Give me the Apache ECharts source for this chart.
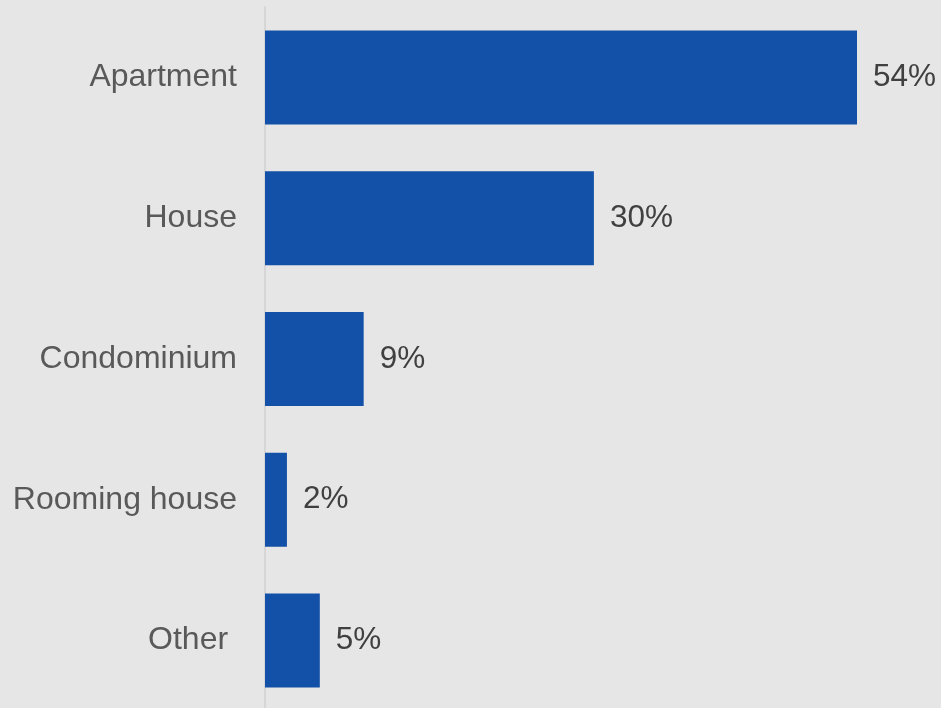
<!DOCTYPE html>
<html>
<head>
<meta charset="utf-8">
<style>
  html, body { margin: 0; padding: 0; background: #e6e6e6; }
  #chart { width: 941px; height: 708px; }
</style>
<script src="https://cdn.jsdelivr.net/npm/echarts@6/dist/echarts.min.js"></script>
</head>
<body>
<div id="chart"></div>
<script>
// Dwelling types and their share of respondents (percent)
const categories = ['Apartment', 'House', 'Condominium', 'Rooming house', 'Other '];
const shares = [54, 30, 9, 2, 5];

const chart = echarts.init(document.getElementById('chart'), null, { renderer: 'canvas' });

chart.setOption({
  backgroundColor: '#e6e6e6',
  animation: false,
  grid: {
    left: 265, right: 84, top: 7, height: 704,
    containLabel: false,
    outerBoundsMode: 'none'
  },
  xAxis: {
    type: 'value',
    min: 0,
    max: 54,
    show: false
  },
  yAxis: {
    type: 'category',
    data: categories,
    inverse: true,
    axisLine: { show: true, lineStyle: { color: '#d6d6d6', width: 2 } },
    axisTick: { show: false },
    splitLine: { show: false },
    axisLabel: {
      color: '#595959',
      fontFamily: 'Liberation Sans, Arial, sans-serif',
      fontSize: 32,
      margin: 28,
      padding: [2, 0, 0, 0]
    }
  },
  series: [{
    type: 'bar',
    data: shares,
    barWidth: 94,
    itemStyle: { color: '#1251a7' },
    label: {
      show: true,
      position: 'right',
      distance: 16,
      formatter: p => p.value + '%',
      color: '#404040',
      fontFamily: 'Liberation Sans, Arial, sans-serif',
      fontSize: 31.5,
      padding: [6, 0, 0, 0]
    }
  }]
});
</script>
</body>
</html>
